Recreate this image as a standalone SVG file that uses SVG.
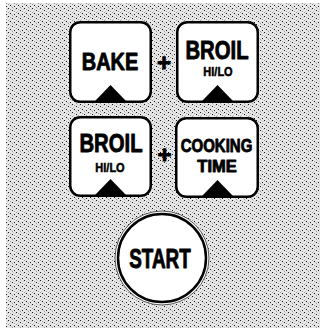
<svg xmlns="http://www.w3.org/2000/svg" width="320" height="328" viewBox="0 0 320 328">
<defs>
<pattern id="dither" x="0" y="0" width="8" height="8" patternUnits="userSpaceOnUse">
<rect width="8" height="8" fill="#e8e8e8"/>
<rect x="0" y="0" width="1" height="1" fill="#111"/>
<rect x="4" y="2" width="1" height="1" fill="#111"/>
<rect x="2" y="5" width="1" height="1" fill="#111"/>
<rect x="6" y="6" width="1" height="1" fill="#111"/>
<rect x="2" y="1" width="1" height="1" fill="#9a9a9a"/>
<rect x="6" y="3" width="1" height="1" fill="#9a9a9a"/>
<rect x="0" y="4" width="1" height="1" fill="#9a9a9a"/>
<rect x="4" y="7" width="1" height="1" fill="#9a9a9a"/>
<rect x="5" y="0" width="1" height="1" fill="#c4c4c4"/>
<rect x="1" y="3" width="1" height="1" fill="#c4c4c4"/>
<rect x="7" y="1" width="1" height="1" fill="#c4c4c4"/>
<rect x="3" y="6" width="1" height="1" fill="#c4c4c4"/>
</pattern>
</defs>
<style>
.key{fill:#fff;stroke:#000;stroke-width:2.5}
.tri{fill:#000}
.lbl{font-family:"Liberation Sans",Arial,sans-serif;font-weight:bold;fill:#000;stroke:#000;stroke-width:0.9;stroke-linejoin:round;text-anchor:middle}
</style>
<rect width="320" height="328" fill="#fff"/>
<rect x="6" y="3" width="314" height="325" fill="url(#dither)"/>

<g id="bake">
<rect class="key" x="70.25" y="22.25" width="80.5" height="79.5" rx="10"/>
<text class="lbl" transform="translate(110,70) scale(0.83,1)" font-size="24">BAKE</text>
<polygon class="tri" points="110.5,85 95,101 126,101"/>
</g>

<g id="plus1">
<text class="lbl" transform="translate(164,70.5)" font-size="24">+</text>
</g>

<g id="broil1">
<rect class="key" x="177.25" y="22.25" width="80.5" height="79.5" rx="10"/>
<text class="lbl" transform="translate(217,59) scale(0.78,1)" font-size="26">BROIL</text>
<text class="lbl" transform="translate(218,76) scale(0.88,1)" font-size="12.5" style="stroke-width:0.5">HI/LO</text>
<polygon class="tri" points="217.5,85 202,101 233,101"/>
</g>

<g id="broil2">
<rect class="key" x="70.25" y="117.25" width="80.5" height="78.5" rx="10"/>
<text class="lbl" transform="translate(111,152) scale(0.78,1)" font-size="26">BROIL</text>
<text class="lbl" transform="translate(110,172) scale(0.88,1)" font-size="12.5" style="stroke-width:0.5">HI/LO</text>
<polygon class="tri" points="110.5,179 95,195 126,195"/>
</g>

<g id="plus2">
<text class="lbl" transform="translate(164.5,163)" font-size="24">+</text>
</g>

<g id="cooking-time">
<rect class="key" x="176.25" y="118.25" width="81.5" height="78.5" rx="10"/>
<text class="lbl" transform="translate(216.5,151.5) scale(0.79,1)" font-size="19">COOKING</text>
<text class="lbl" transform="translate(217,171.5) scale(0.97,1)" font-size="17">TIME</text>
<polygon class="tri" points="217.5,180 202,196 233,196"/>
</g>

<g id="start">
<circle cx="162" cy="258" r="47" fill="#fff" stroke="#555" stroke-width="1"/>
<circle cx="162" cy="258" r="44" fill="#fff" stroke="#000" stroke-width="2.5"/>
<text class="lbl" transform="translate(160,268) scale(0.7,1)" font-size="27">START</text>
</g>
</svg>
